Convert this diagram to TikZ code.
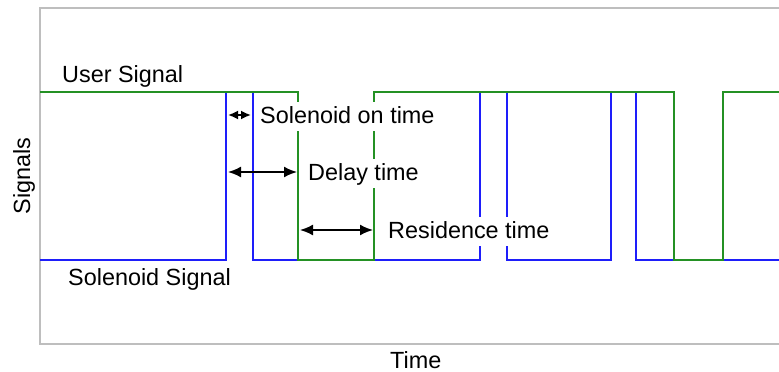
\documentclass[tikz,border=0pt]{standalone}
\usepackage{fontspec}
\setmainfont{Liberation Sans}
\usetikzlibrary{arrows.meta}
\definecolor{usergreen}{RGB}{36,145,36}
\definecolor{solblue}{RGB}{30,30,250}
\definecolor{framegray}{RGB}{190,190,190}
\begin{document}
\begin{tikzpicture}[x=1pt,y=-1pt,
  lbl/.style={font=\fontsize{23.4}{28}\selectfont, inner sep=0pt, anchor=base west},
  masklbl/.style={font=\fontsize{23.4}{28}\selectfont, fill=white, inner sep=4pt, text height=17pt, text depth=4pt, anchor=base west},
  sig/.style={line width=2pt, line join=miter},
  dim/.style={line width=1.8pt, {Latex[length=13pt,width=11pt]}-{Latex[length=13pt,width=11pt]}},
  shortdim/.style={line width=1.8pt, {Latex[length=10pt,width=9pt]}-{Latex[length=10pt,width=9pt]}}]
\useasboundingbox (0,0) rectangle (779,372);
% frame
\draw[framegray, line width=1.5pt] (781,8) -- (40,8) -- (40,344) -- (781,344);
% solenoid signal
\draw[sig, solblue] (40,260) -| (226,92) -| (253,260) -| (480,92) -| (507,260) -| (611,92) -| (636,260) -- (781,260);
% user signal
\draw[sig, usergreen] (40,92) -| (298,260) -| (374,92) -| (674,260) -| (723,92) -- (781,92);
% dimension coordinates
\coordinate (s1) at (228,115);
\coordinate (s2) at (251,115);
\coordinate (d1) at (228,172);
\coordinate (d2) at (297,172);
\coordinate (r1) at (300,230);
\coordinate (r2) at (373,230);
\draw[shortdim] (s1) -- (s2);
\draw[dim] (d1) -- (d2);
\draw[dim] (r1) -- (r2);
% labels
\node[lbl] (user) at (62,82) {User Signal};
\node[lbl] (sol) at (68,285) {Solenoid Signal};
\node[masklbl] (ontime) at (256,123) {Solenoid on time};
\node[masklbl] (delay) at (304,180) {Delay time};
\node[masklbl] (resid) at (384,238) {Residence time};
\node[lbl] (time) at (390,368) {Time};
\node[lbl, rotate=90, anchor=base] (signals) at (30,176) {Signals};
\end{tikzpicture}
\end{document}
